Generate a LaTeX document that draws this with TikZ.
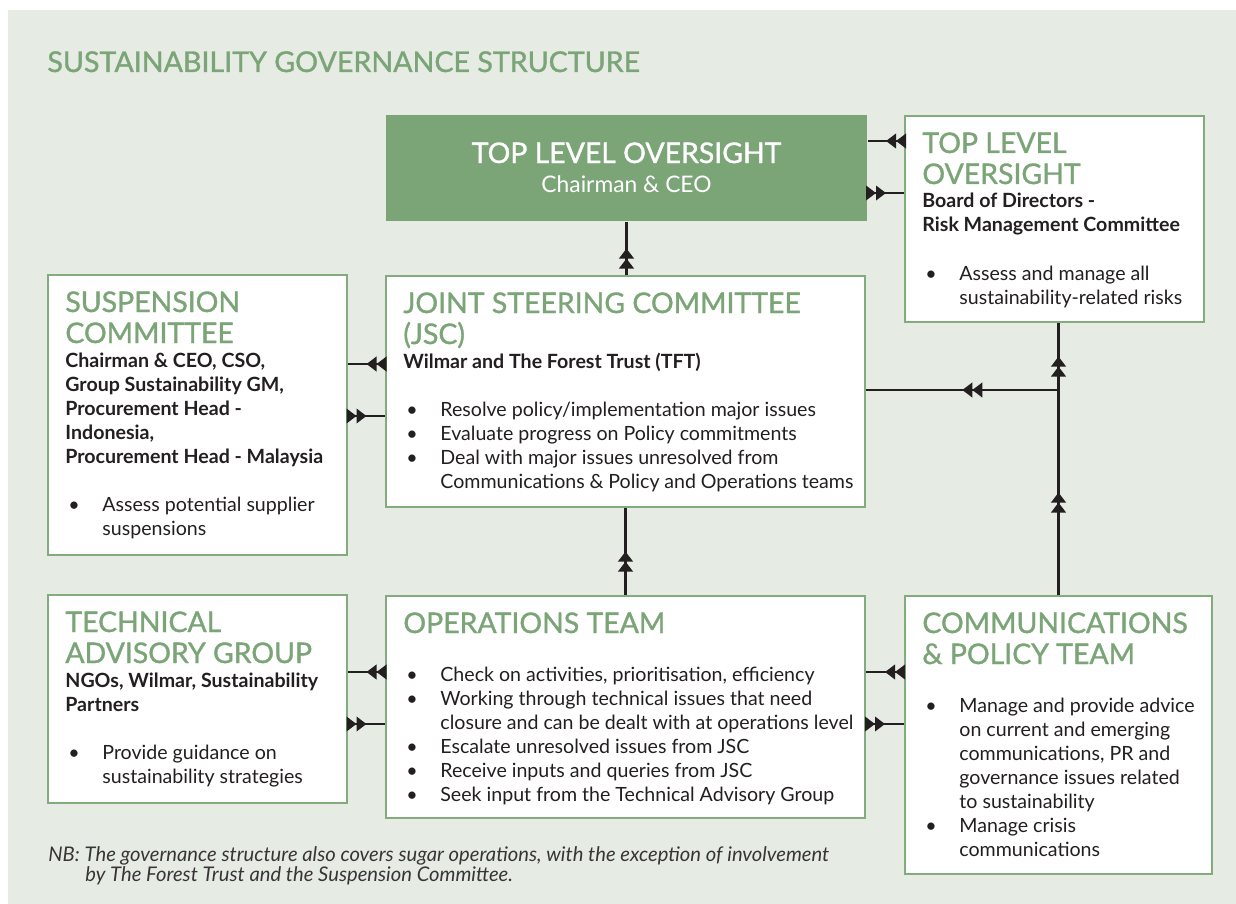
\documentclass[tikz,border=0pt]{standalone}
\usepackage{fontspec}
\setmainfont{Lato}
\newfontfamily\headfont[FakeBold=1.2]{Lato}
\usetikzlibrary{calc,arrows.meta,decorations.markings}
\definecolor{leaf}{HTML}{7BA577}
\definecolor{sage}{HTML}{E6EBE4}
\definecolor{frame}{HTML}{82AC7E}
\definecolor{ink}{HTML}{231F20}
\def\px{0.5pt}
\tikzstyle{box}=[draw=frame,fill=white,line width=1pt,inner sep=0,anchor=north west]
\tikzstyle{txt}=[inner sep=0,anchor=base west,text=ink]
\tikzset{twin/.style={postaction={decorate},decoration={markings,
  mark=at position .5 with {\arrow{Triangle[length=5pt,width=7.2pt] Triangle[length=5pt,width=7.2pt]}}}}}
\tikzstyle{link}=[line width=1.2pt,ink,twin]
\newcommand{\hd}[1]{{\headfont\fontsize{14.2pt}{15.5pt}\selectfont\noindent\textcolor{leaf}{#1}\par}}
\newcommand{\bitem}[1]{\par\noindent\hangindent=18.5pt\hangafter=1\hspace*{1.5pt}\makebox[17pt][l]{\textbullet}#1\par}
\newcommand{\card}[2]{\parbox[t]{#1}{\fontsize{9.8pt}{12pt}\selectfont #2}}

\begin{document}
\begin{tikzpicture}[x=\px,y=-\px]
  \useasboundingbox (0,0) rectangle (1236,904);
  \fill[sage] (8,10) rectangle (1236,904);

  % TITLE
  \node[txt,text=leaf] (title) at (47,72)
    {\headfont\fontsize{14.3pt}{16pt}\selectfont SUSTAINABILITY GOVERNANCE STRUCTURE};

  % BOXES
  \node[box,draw=none,fill=leaf,minimum width=481*\px,minimum height=106*\px] (top) at (385,114) {};
  \node[box,minimum width=299*\px,minimum height=206*\px] (tlo) at (904,115) {};
  \node[box,minimum width=299*\px,minimum height=280*\px] (sus) at (47,274) {};
  \node[box,minimum width=479*\px,minimum height=231*\px] (jsc) at (385,275) {};
  \node[box,minimum width=299*\px,minimum height=208*\px] (tag) at (47,594) {};
  \node[box,minimum width=479*\px,minimum height=222*\px] (ops) at (385,595) {};
  \node[box,minimum width=307*\px,minimum height=278*\px] (com) at (904,595) {};

  % TEXT
  \node[inner sep=0,anchor=base,text=white] (top-h) at ($(top.north)+(0,49)$)
    {\headfont\fontsize{14.2pt}{16pt}\selectfont TOP LEVEL OVERSIGHT};
  \node[inner sep=0,anchor=base,text=white] (top-s) at ($(top.north)+(0,78)$)
    {\fontsize{11.4pt}{13pt}\selectfont Chairman \& CEO};

  \node[txt] (tlo-t) at ($(tlo.north west)+(18,38)$) {\card{135pt}{%
    \hd{TOP LEVEL\\OVERSIGHT}
    \textbf{Board of Directors -\\Risk Management Committee}\par\vspace{12pt}
    \bitem{Assess and manage all\\sustainability-related risks}}};

  \node[txt] (sus-t) at ($(sus.north west)+(18,38)$) {\card{135pt}{%
    \hd{SUSPENSION\\COMMITTEE}
    \textbf{Chairman \& CEO, CSO,\\Group Sustainability GM,\\Procurement Head -\\Indonesia,\\Procurement Head - Malaysia}\par\vspace{12pt}
    \bitem{Assess potential supplier\\suspensions}}};

  \node[txt] (jsc-t) at ($(jsc.north west)+(18,38)$) {\card{225pt}{%
    \hd{JOINT STEERING COMMITTEE\\(JSC)}
    \textbf{Wilmar and The Forest Trust (TFT)}\par\vspace{12pt}
    \bitem{Resolve policy/implementation major issues}
    \bitem{Evaluate progress on Policy commitments}
    \bitem{Deal with major issues unresolved from\\Communications \& Policy and Operations teams}}};

  \node[txt] (tag-t) at ($(tag.north west)+(18,38)$) {\card{135pt}{%
    \hd{TECHNICAL\\ADVISORY GROUP}
    \textbf{NGOs, Wilmar, Sustainability\\Partners}\par\vspace{12pt}
    \bitem{Provide guidance on\\sustainability strategies}}};

  \node[txt] (ops-t) at ($(ops.north west)+(18,38)$) {\card{225pt}{%
    \hd{OPERATIONS TEAM}\vspace{12pt}
    \bitem{Check on activities, prioritisation, efficiency}
    \bitem{Working through technical issues that need\\closure and can be dealt with at operations level}
    \bitem{Escalate unresolved issues from JSC}
    \bitem{Receive inputs and queries from JSC}
    \bitem{Seek input from the Technical Advisory Group}}};

  \node[txt] (com-t) at ($(com.north west)+(18,38)$) {\card{140pt}{%
    \hd{COMMUNICATIONS\\\& POLICY TEAM}\vspace{12pt}
    \bitem{Manage and provide advice\\on current and emerging\\communications, PR and\\governance issues related\\to sustainability}
    \bitem{Manage crisis\\communications}}};

  \node[txt,text=ink!90] (nb) at (48,861) {\parbox[t]{440pt}{\fontsize{10.1pt}{8pt}\selectfont\itshape
    NB: The governance structure also covers sugar operations, with the exception of involvement\\
    \hspace*{18.5pt}by The Forest Trust and the Suspension Committee.}};

  % LINKS
  \coordinate (a1) at ($(tlo.north west)+(0,26)$);
  \coordinate (a2) at ($(tlo.north west)+(0,78)$);
  \draw[link] (a1) -- (a1 -| top.east);
  \draw[link] (a2 -| top.east) -- (a2);
  \draw[link] (top.south |- jsc.north) -- (top.south);

  \coordinate (b1) at ($(jsc.north west)+(0,89)$);
  \coordinate (b2) at ($(jsc.north west)+(0,141)$);
  \draw[link] (b1) -- (b1 -| sus.east);
  \draw[link] (b2 -| sus.east) -- (b2);

  \coordinate (c1) at ($(ops.north west)+(0,77)$);
  \coordinate (c2) at ($(ops.north west)+(0,129)$);
  \draw[link] (c1) -- (c1 -| tag.east);
  \draw[link] (c2 -| tag.east) -- (c2);
  \draw[link] (c1 -| com.west) -- (c1 -| ops.east);
  \draw[link] (c2 -| ops.east) -- (c2 -| com.west);
  \draw[link] (ops.north) -- (ops.north |- jsc.south);

  \coordinate (j) at ($(jsc.north east)+(0,115)$);
  \draw[link] (com.north) -- (com.north |- j);
  \draw[link] (com.north |- j) -- (com.north |- tlo.south);
  \draw[link] (com.north |- j) -- (j);
\end{tikzpicture}
\end{document}
